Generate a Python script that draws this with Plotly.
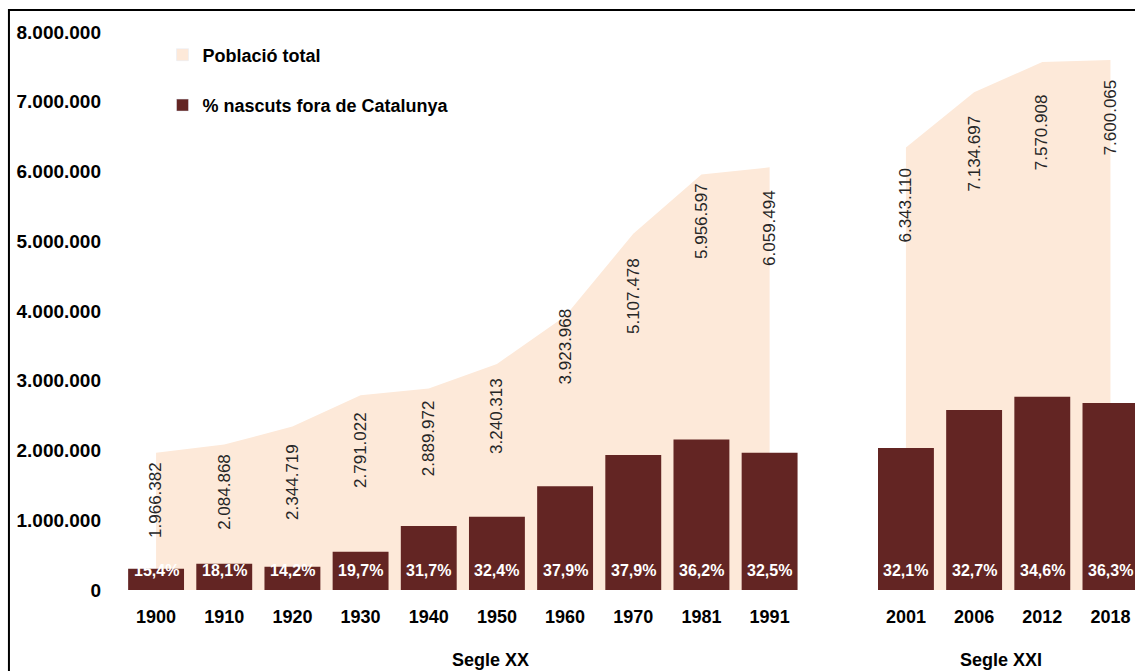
import plotly.graph_objects as go

# ---- data ----
years = ["1900", "1910", "1920", "1930", "1940", "1950", "1960", "1970", "1981", "1991",
         "2001", "2006", "2012", "2018"]
poblacio = [1966382, 2084868, 2344719, 2791022, 2889972, 3240313, 3923968, 5107478,
            5956597, 6059494, 6343110, 7134697, 7570908, 7600065]
pct_fora = [15.4, 18.1, 14.2, 19.7, 31.7, 32.4, 37.9, 37.9, 36.2, 32.5,
            32.1, 32.7, 34.6, 36.3]
nascuts_fora = [303000, 377000, 333000, 550000, 916000, 1050000, 1487000, 1936000,
                2156000, 1969000, 2036000, 2580000, 2770000, 2680000]
segle_xx = years[:10]
segle_xxi = years[10:]
gap_cat = " "
categories = segle_xx + [gap_cat] + segle_xxi
segles = [("Segle XX", 4.9), ("Segle XXI", 12.4)]
y_ticks = [0, 1000000, 2000000, 3000000, 4000000, 5000000, 6000000, 7000000, 8000000]

# ---- style ----
PEACH = "#FDE9D9"
MAROON = "#632523"
SANS = "Liberation Sans, Arial, sans-serif"
# pixel gap between the top of the area and the top of each rotated label
label_gap_px = [7, 7, 15, 15, 10, 12, -10, 22, 6, 21, 19, 21, 30, 17]


def fmt_int(v):
    return f"{v:,}".replace(",", ".")


def fmt_pct(p):
    return f"{p:.1f}".replace(".", ",") + "%"


def cat_index(c):
    return categories.index(c)


fig = go.Figure()

# area: total population (two separate segments)
n20 = len(segle_xx)
fig.add_trace(go.Scatter(x=segle_xx, y=poblacio[:n20], mode="none", fill="tozeroy",
                         fillcolor=PEACH, showlegend=False, hoverinfo="skip", yaxis="y"))
fig.add_trace(go.Scatter(x=segle_xxi, y=poblacio[n20:], mode="none", fill="tozeroy",
                         fillcolor=PEACH, showlegend=False, hoverinfo="skip", yaxis="y"))

# bars: people born outside Catalonia (on overlay axis so they sit above the area)
fig.add_trace(go.Bar(x=years, y=nascuts_fora, marker=dict(color=MAROON, line=dict(width=0)),
                     showlegend=False, yaxis="y2", hoverinfo="skip"))

# legend entries
fig.add_trace(go.Bar(x=[None], y=[None], name="Població total", marker_color=PEACH,
                     legendgroup="a", yaxis="y2"))
fig.add_trace(go.Bar(x=[None], y=[None], name="% nascuts fora de Catalunya",
                     marker_color=MAROON, legendgroup="b", yaxis="y2"))

annotations = []
for yr, v, g in zip(years, poblacio, label_gap_px):
    annotations.append(dict(x=cat_index(yr), y=v, xref="x", yref="y", text=fmt_int(v),
                            textangle=-90, showarrow=False, xanchor="center", yanchor="top",
                            yshift=-g, font=dict(family=SANS, size=17, color="#262626")))
for yr, p in zip(years, pct_fora):
    annotations.append(dict(x=cat_index(yr), y=0, xref="x", yref="y", text="<b>" + fmt_pct(p) + "</b>",
                            showarrow=False, xanchor="center", yanchor="middle", yshift=20,
                            font=dict(family=SANS, size=16, color="white")))
for name, pos in segles:
    annotations.append(dict(x=pos, y=-0.125, xref="x", yref="paper", text="<b>" + name + "</b>",
                            showarrow=False, xanchor="center", yanchor="middle",
                            font=dict(family=SANS, size=18, color="black")))

fig.update_layout(
    width=1135, height=671,
    margin=dict(l=122, r=0, t=32, b=81),
    paper_bgcolor="white", plot_bgcolor="white",
    separators=",.",
    bargap=0.18,
    barmode="overlay",
    xaxis=dict(type="category", categoryorder="array", categoryarray=categories,
               range=[-0.5, 14.36], showgrid=False, zeroline=False, showline=False,
               ticks="", ticklabelstandoff=14,
               tickfont=dict(family=SANS, size=18, color="black", weight="bold")),
    yaxis=dict(range=[0, 8000000], tickvals=y_ticks, tickformat=",d", showgrid=False,
               zeroline=False, showline=False, ticks="", ticklabelstandoff=20,
               tickfont=dict(family=SANS, size=19, color="black", weight="bold")),
    yaxis2=dict(range=[0, 8000000], overlaying="y", side="left", visible=False),
    legend=dict(x=0.04, y=0.992, xanchor="left", yanchor="top", bgcolor="rgba(0,0,0,0)",
                traceorder="grouped", tracegroupgap=24,
                font=dict(family=SANS, size=18, color="black", weight="bold")),
    annotations=annotations,
    shapes=[dict(type="rect", xref="paper", yref="paper", x0=-0.1116, x1=1.05,
                 y0=-0.3, y1=1.0394, line=dict(color="black", width=2),
                 fillcolor="rgba(0,0,0,0)", layer="above")],
)

fig.write_html("out.html", config={"displayModeBar": False},
               post_script="document.body.style.margin='0px';")
